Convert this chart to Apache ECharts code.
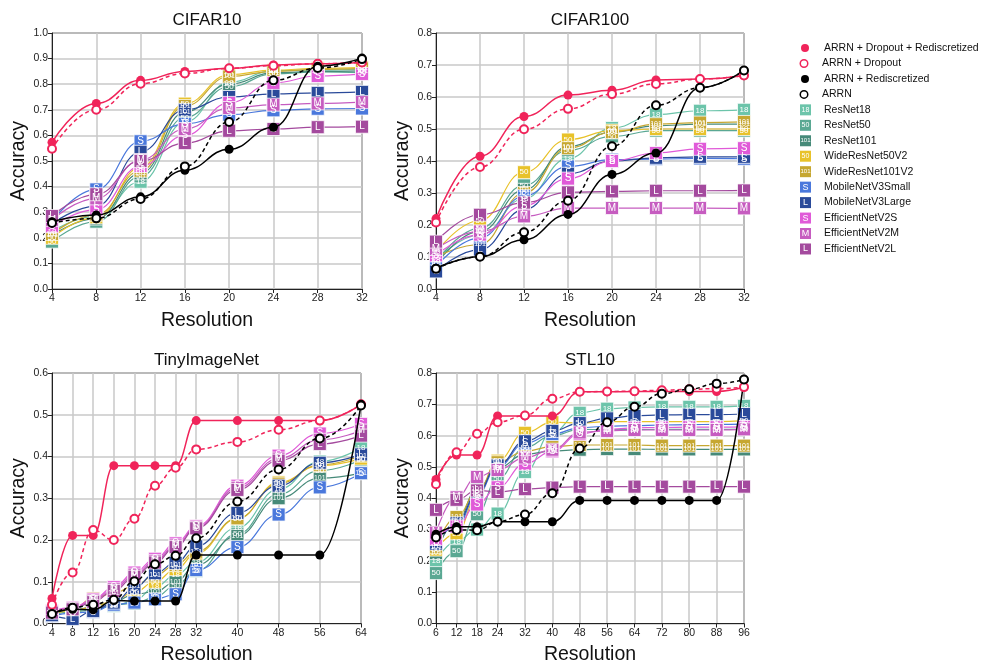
<!DOCTYPE html>
<html><head><meta charset="utf-8">
<script src="https://cdn.jsdelivr.net/npm/echarts@6/dist/echarts.min.js"></script>
<style>html,body{margin:0;padding:0;background:#fff}#c{width:981px;height:666px}</style>
</head><body><div id="c"></div>
<script>
// ---------- categories / tick values ----------
const xCifar = [4, 8, 12, 16, 20, 24, 28, 32];
const xTiny = [4, 8, 12, 16, 20, 24, 28, 32, 40, 48, 56, 64];
const xStl = [6, 12, 18, 24, 32, 40, 48, 56, 64, 72, 80, 88, 96];

const seriesNames = ['ARRN + Dropout + Rediscretized', 'ARRN + Dropout', 'ARRN + Rediscretized', 'ARRN',
  'ResNet18', 'ResNet50', 'ResNet101', 'WideResNet50V2', 'WideResNet101V2',
  'MobileNetV3Small', 'MobileNetV3Large', 'EfficientNetV2S', 'EfficientNetV2M', 'EfficientNetV2L'];
const markerTexts = ['', '', '', '', '18', '50', '101', '50', '101', 'S', 'L', 'S', 'M', 'L'];

// ---------- CIFAR10 ----------
const c10_ArrnDropRedisc = [0.573, 0.725, 0.815, 0.850, 0.862, 0.875, 0.880, 0.885];
const c10_ArrnDrop = [0.548, 0.700, 0.802, 0.842, 0.862, 0.872, 0.880, 0.885];
const c10_ArrnRedisc = [0.263, 0.289, 0.360, 0.464, 0.546, 0.632, 0.870, 0.902];
const c10_Arrn = [0.258, 0.276, 0.352, 0.479, 0.652, 0.815, 0.863, 0.898];
const c10_ResNet18 = [0.225, 0.285, 0.419, 0.652, 0.807, 0.853, 0.855, 0.858];
const c10_ResNet50 = [0.185, 0.263, 0.440, 0.670, 0.790, 0.840, 0.848, 0.845];
const c10_ResNet101 = [0.210, 0.275, 0.452, 0.691, 0.800, 0.845, 0.850, 0.852];
const c10_Wide50 = [0.200, 0.280, 0.475, 0.724, 0.837, 0.855, 0.862, 0.866];
const c10_Wide101 = [0.215, 0.290, 0.462, 0.715, 0.830, 0.850, 0.858, 0.862];
const c10_MobS = [0.265, 0.389, 0.577, 0.645, 0.681, 0.698, 0.704, 0.705];
const c10_MobL = [0.255, 0.324, 0.536, 0.700, 0.750, 0.762, 0.766, 0.770];
const c10_EffS = [0.245, 0.310, 0.480, 0.599, 0.727, 0.805, 0.832, 0.840];
const c10_EffM = [0.270, 0.354, 0.504, 0.625, 0.707, 0.720, 0.725, 0.730];
const c10_EffL = [0.285, 0.370, 0.500, 0.570, 0.618, 0.625, 0.632, 0.634];

// ---------- CIFAR100 ----------
const c100_ArrnDropRedisc = [0.220, 0.415, 0.539, 0.606, 0.621, 0.653, 0.656, 0.667];
const c100_ArrnDrop = [0.208, 0.381, 0.499, 0.563, 0.609, 0.641, 0.656, 0.667];
const c100_ArrnRedisc = [0.065, 0.101, 0.154, 0.233, 0.358, 0.425, 0.629, 0.683];
const c100_Arrn = [0.063, 0.101, 0.177, 0.276, 0.446, 0.574, 0.629, 0.683];
const c100_ResNet18 = [0.090, 0.169, 0.282, 0.408, 0.503, 0.545, 0.557, 0.560];
const c100_ResNet50 = [0.085, 0.190, 0.324, 0.433, 0.477, 0.495, 0.495, 0.495];
const c100_ResNet101 = [0.078, 0.180, 0.310, 0.445, 0.490, 0.510, 0.515, 0.515];
const c100_Wide50 = [0.115, 0.214, 0.365, 0.467, 0.495, 0.500, 0.500, 0.500];
const c100_Wide101 = [0.100, 0.139, 0.300, 0.440, 0.490, 0.515, 0.520, 0.522];
const c100_MobS = [0.070, 0.160, 0.290, 0.383, 0.404, 0.406, 0.408, 0.407];
const c100_MobL = [0.055, 0.123, 0.248, 0.360, 0.400, 0.410, 0.413, 0.413];
const c100_EffS = [0.105, 0.170, 0.260, 0.345, 0.400, 0.425, 0.438, 0.440];
const c100_EffM = [0.125, 0.180, 0.227, 0.253, 0.253, 0.253, 0.253, 0.252];
const c100_EffL = [0.148, 0.232, 0.270, 0.302, 0.305, 0.307, 0.307, 0.308];

// ---------- TinyImageNet ----------
const tin_ArrnDropRedisc = [0.060, 0.211, 0.211, 0.378, 0.378, 0.378, 0.378, 0.486, 0.486, 0.486, 0.486, 0.525];
const tin_ArrnDrop = [0.045, 0.122, 0.224, 0.200, 0.251, 0.330, 0.373, 0.417, 0.435, 0.464, 0.486, 0.525];
const tin_ArrnRedisc = [0.023, 0.034, 0.033, 0.055, 0.054, 0.054, 0.054, 0.164, 0.164, 0.164, 0.164, 0.525];
const tin_Arrn = [0.023, 0.038, 0.045, 0.057, 0.101, 0.142, 0.162, 0.204, 0.292, 0.369, 0.443, 0.522];
const tin_ResNet18 = [0.022, 0.030, 0.035, 0.042, 0.055, 0.087, 0.116, 0.147, 0.230, 0.322, 0.388, 0.421];
const tin_ResNet50 = [0.020, 0.028, 0.032, 0.045, 0.048, 0.063, 0.091, 0.126, 0.215, 0.310, 0.366, 0.392];
const tin_ResNet101 = [0.024, 0.032, 0.040, 0.052, 0.070, 0.076, 0.100, 0.140, 0.210, 0.300, 0.348, 0.360];
const tin_Wide50 = [0.022, 0.030, 0.040, 0.055, 0.075, 0.100, 0.130, 0.168, 0.251, 0.338, 0.378, 0.395];
const tin_Wide101 = [0.025, 0.035, 0.060, 0.073, 0.090, 0.115, 0.140, 0.172, 0.252, 0.335, 0.380, 0.402];
const tin_MobS = [0.018, 0.025, 0.028, 0.045, 0.050, 0.058, 0.070, 0.128, 0.183, 0.261, 0.326, 0.360];
const tin_MobL = [0.020, 0.011, 0.030, 0.050, 0.085, 0.120, 0.145, 0.185, 0.265, 0.330, 0.385, 0.405];
const tin_EffS = [0.030, 0.038, 0.058, 0.087, 0.122, 0.155, 0.192, 0.233, 0.330, 0.402, 0.455, 0.478];
const tin_EffM = [0.028, 0.036, 0.055, 0.082, 0.117, 0.150, 0.187, 0.230, 0.325, 0.395, 0.440, 0.462];
const tin_EffL = [0.026, 0.034, 0.052, 0.078, 0.112, 0.146, 0.183, 0.228, 0.320, 0.390, 0.430, 0.450];

// ---------- STL10 ----------
const stl_ArrnDropRedisc = [0.460, 0.538, 0.538, 0.663, 0.663, 0.663, 0.740, 0.740, 0.741, 0.741, 0.741, 0.741, 0.755];
const stl_ArrnDrop = [0.445, 0.547, 0.606, 0.643, 0.664, 0.718, 0.740, 0.741, 0.742, 0.745, 0.748, 0.750, 0.755];
const stl_ArrnRedisc = [0.285, 0.309, 0.309, 0.325, 0.325, 0.325, 0.393, 0.393, 0.393, 0.393, 0.393, 0.393, 0.779];
const stl_Arrn = [0.275, 0.299, 0.298, 0.325, 0.348, 0.416, 0.559, 0.643, 0.692, 0.734, 0.748, 0.766, 0.779];
const stl_ResNet18 = [0.200, 0.262, 0.300, 0.351, 0.484, 0.611, 0.673, 0.686, 0.690, 0.692, 0.692, 0.692, 0.695];
const stl_ResNet50 = [0.161, 0.231, 0.349, 0.462, 0.562, 0.600, 0.620, 0.619, 0.619, 0.620, 0.620, 0.620, 0.621];
const stl_ResNet101 = [0.225, 0.325, 0.429, 0.497, 0.540, 0.551, 0.555, 0.557, 0.557, 0.556, 0.556, 0.556, 0.556];
const stl_Wide50 = [0.236, 0.288, 0.405, 0.520, 0.609, 0.643, 0.640, 0.645, 0.645, 0.645, 0.645, 0.645, 0.648];
const stl_Wide101 = [0.245, 0.340, 0.420, 0.515, 0.550, 0.565, 0.570, 0.570, 0.570, 0.568, 0.568, 0.568, 0.568];
const stl_MobS = [0.260, 0.310, 0.410, 0.500, 0.575, 0.605, 0.625, 0.630, 0.632, 0.634, 0.635, 0.636, 0.637];
const stl_MobL = [0.255, 0.320, 0.415, 0.505, 0.582, 0.615, 0.640, 0.655, 0.663, 0.666, 0.667, 0.667, 0.669];
const stl_EffS = [0.270, 0.310, 0.380, 0.435, 0.510, 0.550, 0.605, 0.620, 0.625, 0.626, 0.627, 0.627, 0.628];
const stl_EffM = [0.290, 0.403, 0.468, 0.490, 0.530, 0.555, 0.610, 0.615, 0.618, 0.618, 0.618, 0.618, 0.620];
const stl_EffL = [0.363, 0.395, 0.425, 0.420, 0.429, 0.434, 0.437, 0.437, 0.437, 0.437, 0.437, 0.437, 0.437];

// ---------- styling ----------
const FONT = 'Liberation Sans, Arial, sans-serif';
const RED = '#f0245a';
const colors = [RED, RED, '#000000', '#000000',
  '#6cc4aa', '#5aa893', '#468a79', '#e8c22a', '#c6a731',
  '#4a78dc', '#2a4a9a', '#e05ad8', '#c65cc0', '#a44a9e'];

const panels = [
  { title: 'CIFAR10', x: xCifar, ymax: 1.0, grid: { left: 52, top: 33, width: 310, height: 256 }, titleTop: 12,
    data: [c10_ArrnDropRedisc, c10_ArrnDrop, c10_ArrnRedisc, c10_Arrn, c10_ResNet18, c10_ResNet50, c10_ResNet101, c10_Wide50, c10_Wide101, c10_MobS, c10_MobL, c10_EffS, c10_EffM, c10_EffL] },
  { title: 'CIFAR100', x: xCifar, ymax: 0.8, grid: { left: 436, top: 33, width: 308, height: 256 }, titleTop: 12,
    data: [c100_ArrnDropRedisc, c100_ArrnDrop, c100_ArrnRedisc, c100_Arrn, c100_ResNet18, c100_ResNet50, c100_ResNet101, c100_Wide50, c100_Wide101, c100_MobS, c100_MobL, c100_EffS, c100_EffM, c100_EffL] },
  { title: 'TinyImageNet', x: xTiny, ymax: 0.6, grid: { left: 52, top: 373, width: 309, height: 256 }, titleTop: 352, custom: true,
    data: [tin_ArrnDropRedisc, tin_ArrnDrop, tin_ArrnRedisc, tin_Arrn, tin_ResNet18, tin_ResNet50, tin_ResNet101, tin_Wide50, tin_Wide101, tin_MobS, tin_MobL, tin_EffS, tin_EffM, tin_EffL] },
  { title: 'STL10', x: xStl, ymax: 0.8, grid: { left: 436, top: 373, width: 308, height: 256 }, titleTop: 352, custom: true,
    data: [stl_ArrnDropRedisc, stl_ArrnDrop, stl_ArrnRedisc, stl_Arrn, stl_ResNet18, stl_ResNet50, stl_ResNet101, stl_Wide50, stl_Wide101, stl_MobS, stl_MobL, stl_EffS, stl_EffM, stl_EffL] }
];

const titles = [], grids = [], xAxes = [], yAxes = [], series = [];
panels.forEach((p, gi) => {
  titles.push({ text: p.title, left: p.grid.left + p.grid.width / 2, top: p.titleTop, textAlign: 'center', padding: 0,
    textStyle: { fontFamily: FONT, fontSize: 17, fontWeight: 'normal', color: '#111' } });
  grids.push(Object.assign({ show: true, borderColor: '#222', borderWidth: 1, backgroundColor: 'transparent' }, p.grid));
  const xa = {
    gridIndex: gi, type: 'value', min: p.x[0], max: p.x[p.x.length - 1],
    name: 'Resolution', nameLocation: 'middle', nameGap: 21.5,
    nameTextStyle: { fontFamily: FONT, fontSize: 19.5, color: '#111', verticalAlign: 'top' },
    axisLine: { onZero: false, lineStyle: { color: '#222', width: 1 } },
    axisTick: { show: true, length: 4, lineStyle: { color: '#222' } },
    axisLabel: { fontFamily: FONT, fontSize: 10.5, color: '#222', margin: 4 },
    splitLine: { show: true, lineStyle: { color: '#c8c8c8', width: 1.5 } }
  };
  if (p.custom) {
    xa.axisTick.customValues = p.x;
    xa.axisLabel.customValues = p.x;
  } else {
    xa.interval = 4;
  }
  xAxes.push(xa);
  yAxes.push({
    gridIndex: gi, type: 'value', min: 0, max: p.ymax, interval: 0.1,
    name: 'Accuracy', nameLocation: 'middle', nameGap: 23, nameRotate: 90,
    nameTextStyle: { fontFamily: FONT, fontSize: 19.5, color: '#111' },
    axisLine: { show: true, lineStyle: { color: '#222', width: 1 } },
    axisTick: { show: true, length: 4, lineStyle: { color: '#222' } },
    axisLabel: { fontFamily: FONT, fontSize: 10.5, color: '#222', margin: 4, formatter: v => v.toFixed(1) },
    splitLine: { show: true, lineStyle: { color: '#c8c8c8', width: 1.5 } }
  });
  p.data.forEach((arr, si) => {
    const pts = p.x.map((xv, i) => [xv, arr[i]]);
    const col = colors[si];
    const base = {
      name: seriesNames[si], type: 'line', xAxisIndex: gi, yAxisIndex: gi, data: pts,
      smooth: 0.45, smoothMonotone: 'x', clip: false, animation: false,
      emphasis: { disabled: true }
    };
    if (si < 4) {
      Object.assign(base, {
        z: 4,
        symbol: si % 2 === 0 ? 'circle' : 'emptyCircle',
        symbolSize: si % 2 === 0 ? 9 : 8,
        itemStyle: { color: col, borderColor: col, borderWidth: si % 2 === 0 ? 0 : 1.3 },
        lineStyle: { color: col, width: 1.5, type: si % 2 === 0 ? 'solid' : [4, 3] }
      });
    } else {
      const t = markerTexts[si];
      Object.assign(base, {
        z: 2,
        symbol: 'rect', symbolSize: 13,
        itemStyle: { color: col, borderColor: 'rgba(255,255,255,0.75)', borderWidth: 1 },
        lineStyle: { color: col, width: 1.2 },
        label: { show: true, position: 'inside', formatter: t, color: '#fff', fontFamily: FONT,
          fontSize: t.length > 2 ? 7 : (t.length === 2 ? 8 : 10) }
      });
    }
    series.push(base);
  });
});

// legend rich styles
const rich = {
  g1: { width: 13 },
  g2: { width: 15 },
  sp: { width: 1 },
  nm: { fontFamily: FONT, fontSize: 10.5, color: '#111', height: 12, lineHeight: 12 }
};
seriesNames.forEach((n, i) => {
  if (i < 4) {
    rich['k' + i] = (i % 2 === 0)
      ? { width: 8, height: 8, borderRadius: 4, backgroundColor: colors[i] }
      : { width: 6, height: 6, borderRadius: 4, backgroundColor: '#fff', borderColor: colors[i], borderWidth: 1.5 };
  } else {
    const t = markerTexts[i];
    rich['k' + i] = { width: 11, height: 11, lineHeight: 11, align: 'center', backgroundColor: colors[i],
      color: '#fff', fontFamily: FONT, fontSize: t.length > 2 ? 6 : (t.length === 2 ? 7 : 9) };
  }
});

const chart = echarts.init(document.getElementById('c'), null, { renderer: 'canvas' });
chart.setOption({
  backgroundColor: '#fff',
  animation: false,
  title: titles,
  grid: grids,
  xAxis: xAxes,
  yAxis: yAxes,
  legend: {
    data: seriesNames, orient: 'vertical', left: 794, top: 42, padding: 0,
    icon: 'rect', itemWidth: 1, itemHeight: 1, itemGap: 3.46, selectedMode: false,
    itemStyle: { opacity: 0, borderWidth: 0 }, lineStyle: { opacity: 0, width: 0 },
    textStyle: { rich: rich, fontFamily: FONT, fontSize: 10.5, color: '#111' },
    formatter: name => {
      const i = seriesNames.indexOf(name);
      if (i < 4) return '{sp|}{k' + i + '|}{g2|}{nm|' + name + '}';
      return '{k' + i + '|' + markerTexts[i] + '}{g1|}{nm|' + name + '}';
    }
  },
  series: series
});
</script></body></html>
